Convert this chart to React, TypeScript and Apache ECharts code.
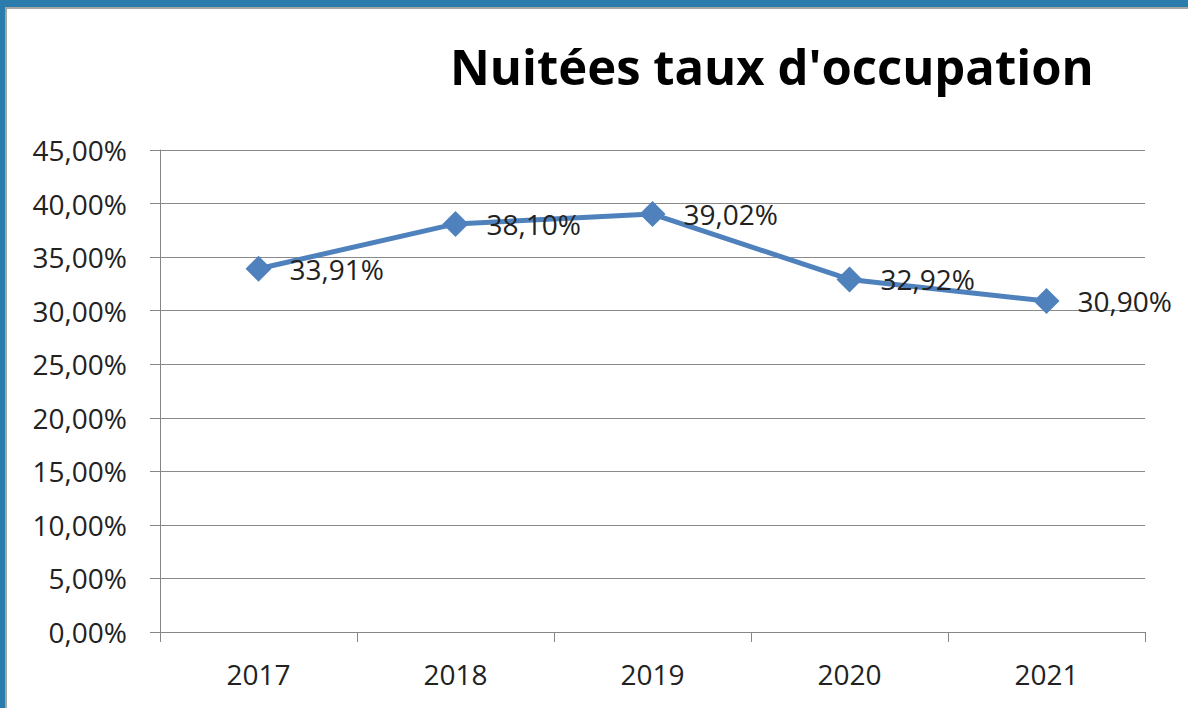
import React, { useEffect, useRef } from "react";
import * as echarts from "echarts";

const categories = ["2017", "2018", "2019", "2020", "2021"];
const occupancy = [33.91, 38.1, 39.02, 32.92, 30.9];
const titleText = "Nuitées taux d'occupation";

const fmt = (v: number) => v.toFixed(2).replace(".", ",") + "%";

export default function App() {
  const ref = useRef<HTMLDivElement>(null);
  useEffect(() => {
    document.body.style.margin = "0";
    const chart = echarts.init(ref.current!, null, { renderer: "svg" });
    const font = "'Open Sans', Lato, sans-serif";
    chart.setOption({
      animation: false,
      backgroundColor: "#ffffff",
      graphic: [
        { type: "rect", shape: { x: 0, y: 0, width: 1188, height: 7 }, style: { fill: "#2a7cad" } },
        { type: "rect", shape: { x: 0, y: 0, width: 5, height: 708 }, style: { fill: "#2a7cad" } },
        { type: "rect", shape: { x: 5, y: 7, width: 1183, height: 2 }, style: { fill: "#a6a6a6" } },
        { type: "rect", shape: { x: 5, y: 7, width: 2, height: 701 }, style: { fill: "#a6a6a6" } },
      ],
      title: {
        text: titleText,
        left: 445,
        top: 36,
        textStyle: { fontFamily: font, fontWeight: "bold", fontSize: 49, color: "#000" },
      },
      grid: { left: 160, right: 43, top: 150, bottom: 76, containLabel: false },
      xAxis: {
        type: "category",
        data: categories,
        boundaryGap: true,
        axisLine: { lineStyle: { color: "#868686", width: 1 } },
        axisTick: { show: true, length: 10, lineStyle: { color: "#868686" } },
        axisLabel: { fontFamily: font, fontSize: 28, color: "#222", margin: 28 },
      },
      yAxis: {
        type: "value",
        min: 0,
        max: 45,
        interval: 5,
        axisLine: { show: true, lineStyle: { color: "#868686", width: 1 } },
        axisTick: { show: true, length: 10, lineStyle: { color: "#868686" } },
        splitLine: { lineStyle: { color: "#8a8a8a", width: 1 } },
        axisLabel: {
          fontFamily: font,
          fontSize: 28,
          color: "#222",
          margin: 33,
          formatter: (v: number) => fmt(v),
        },
      },
      series: [
        {
          type: "line",
          data: occupancy,
          symbol: "diamond",
          symbolSize: 26,
          lineStyle: { color: "#4f81bd", width: 5 },
          itemStyle: { color: "#4f81bd" },
          label: {
            show: true,
            position: "right",
            distance: 18,
            fontFamily: font,
            fontSize: 28,
            color: "#222",
            formatter: (p: any) => fmt(p.value),
          },
        },
      ],
    });
    return () => chart.dispose();
  }, []);
  return <div ref={ref} style={{ width: 1188, height: 708 }} />;
}
